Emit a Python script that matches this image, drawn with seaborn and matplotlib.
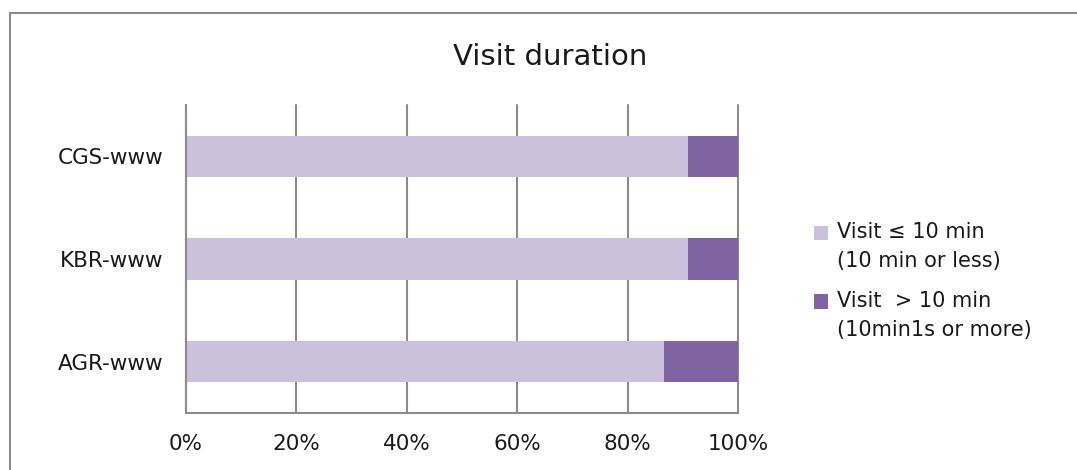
import matplotlib
matplotlib.use("Agg")
import matplotlib.pyplot as plt
from matplotlib.patches import Rectangle, Patch
from matplotlib.legend_handler import HandlerPatch
import seaborn as sns
import pandas as pd

# Share of visits by duration (%)
sites = ["CGS-www", "KBR-www", "AGR-www"]
short_visits = [90.9, 90.9, 86.6]   # visit <= 10 min
long_visits = [9.1, 9.1, 13.4]      # visit > 10 min
x_ticks = [0, 20, 40, 60, 80, 100]
x_tick_labels = ["0%", "20%", "40%", "60%", "80%", "100%"]

light = "#CBC1DC"
dark = "#8064A2"
grid_col = "#8C8C8C"

sns.set_theme(style="white")
plt.rcParams["font.family"] = ["DejaVu Sans"]

df = pd.DataFrame({
    "site": sites,
    "short": short_visits,
    "total": [s + l for s, l in zip(short_visits, long_visits)],
})


class FirstLineSquare(HandlerPatch):
    """Legend square aligned with the first line of a two-line label."""

    def __init__(self, shift, **kw):
        super().__init__(**kw)
        self.shift = shift

    def create_artists(self, legend, orig_handle, xdescent, ydescent,
                       width, height, fontsize, trans):
        p = Rectangle((-xdescent, -ydescent + self.shift), width, height,
                      facecolor=orig_handle.get_facecolor(), edgecolor="none",
                      transform=trans)
        return [p]


fig = plt.figure(figsize=(10.77, 4.70), dpi=100)
ax = fig.add_axes([186 / 1077, 1 - 413 / 470, (738 - 186) / 1077, (413 - 105) / 470])

# Stacked horizontal bars: full length in dark, short part overlaid in light
sns.barplot(data=df, x="total", y="site", color=dark, saturation=1, width=0.4,
            ax=ax, orient="h", linewidth=0)
sns.barplot(data=df, x="short", y="site", color=light, saturation=1, width=0.4,
            ax=ax, orient="h", linewidth=0)

ax.set_xlim(0, 100)
ax.set_xticks(x_ticks)
ax.set_xticklabels(x_tick_labels)
ax.set_xlabel("")
ax.set_ylabel("")
ax.tick_params(axis="x", length=0, pad=15, labelsize=15.5, labelcolor="#1a1a1a")
ax.tick_params(axis="y", length=0, pad=16, labelsize=15.5, labelcolor="#1a1a1a")

ax.xaxis.grid(True, color=grid_col, linewidth=1.5)
for gl in ax.get_xgridlines():
    gl.set_clip_on(False)
ax.set_axisbelow(True)
for side in ["top", "right"]:
    ax.spines[side].set_visible(False)
for side in ["left", "bottom"]:
    ax.spines[side].set_color(grid_col)
    ax.spines[side].set_linewidth(1.5)
ax.spines["left"].set_zorder(5)

fig.suptitle("Visit duration", x=550 / 1077, y=1 - 57 / 470, va="center",
             fontsize=21, color="#1a1a1a")

handles = [Patch(facecolor=light, edgecolor="none"),
           Patch(facecolor=dark, edgecolor="none")]
labels = ["Visit \u2264 10 min\n(10 min or less)", "Visit  > 10 min\n(10min1s or more)"]
leg = fig.legend(handles, labels, loc="center left",
                 bbox_to_anchor=(795 / 1077, 1 - 281 / 470),
                 frameon=False, fontsize=15, handlelength=0.7, handleheight=0.7,
                 handletextpad=0.4, labelspacing=0.95, labelcolor="#1a1a1a",
                 handler_map={Patch: FirstLineSquare(shift=10.5)})
for t in leg.get_texts():
    t.set_linespacing(1.55)

# Chart frame
fig.patches.append(Rectangle((9.5 / 1077, -0.2), 1.3, 1.2 - 12.5 / 470,
                             transform=fig.transFigure, fill=False,
                             edgecolor="#8C8C8C", linewidth=1.5))

fig.savefig("out.png", dpi=100)
